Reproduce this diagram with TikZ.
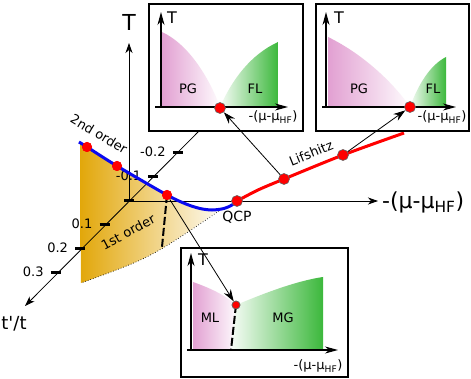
\documentclass[tikz,border=0pt]{standalone}
\usepackage{fontspec}
\setmainfont{DejaVu Sans}
\usepackage{tikz}
\usetikzlibrary{arrows.meta,positioning}
\definecolor{goldx}{HTML}{E2A70A}
\definecolor{pinkx}{HTML}{E2A0D2}
\definecolor{greenx}{HTML}{3CB83C}
\definecolor{bluex}{HTML}{0A0AF0}
\definecolor{redx}{HTML}{FF0000}
\tikzset{
  ax/.style={-{Stealth[length=10pt,width=7pt,inset=3pt]},line width=0.8pt},
  subax/.style={-{Stealth[length=13pt,width=7pt,inset=4pt]},line width=1.1pt},
  ptr/.style={-{Stealth[length=12pt,width=8pt,inset=4pt]},line width=0.8pt},
  tk/.style={line width=3pt},
  phasebd/.style={line width=2pt,dash pattern=on 8pt off 3pt},
  bluecv/.style={bluex,line width=3pt},
  redcv/.style={redx,line width=3pt},
  dot/.style={circle,fill=redx,draw=black!60,line width=0.6pt,minimum size=11pt,inner sep=0pt},
  bdot/.style={circle,fill=redx,minimum size=10pt,inner sep=0pt},
  smalldot/.style={dot,minimum size=8pt},
  panel/.style={draw,line width=1.8pt,fill=white,inner sep=0pt},
  biglab/.style={font=\fontsize{22}{24}\selectfont,inner sep=0pt},
  ticklab/.style={font=\fontsize{13}{15}\selectfont,inner sep=0pt},
  curvelab/.style={font=\fontsize{13}{15}\selectfont,inner sep=0pt},
  boxlab/.style={font=\fontsize{13}{15}\selectfont,inner sep=0pt},
  boxT/.style={font=\fontsize{16}{18}\selectfont,inner sep=0pt}
}

\begin{document}
\begin{tikzpicture}[x=1pt,y=-1pt]
\useasboundingbox (0,0) rectangle (471,379);
% first order region
\shade[left color=goldx,right color=goldx!6] plot[smooth] coordinates {(80,143) (87,147) (117,166) (167,195) (186,204) (200,208.5) (212,210) (219,210.5)} .. controls (150,258) .. (81,283) -- cycle;
\coordinate (yR) at (219,211);
\coordinate (yL) at (81,283);
\draw[dotted,line width=0.7pt] (yR) .. controls (150,258) .. (yL);
% axes
\coordinate (O) at (129,201);
\coordinate (Otip) at (129,43);
\coordinate (Xtip) at (378,201);
\coordinate (Xst) at (124,201);
\coordinate (Dst) at (207,123);
\coordinate (Dtip) at (25,306);
\draw[ax] (O) -- (Otip);
\draw[ax] (Xst) -- (Xtip);
\draw[ax] (Dst) -- (Dtip);
\foreach \v in {-2,...,3}
  \draw[tk] ({129-24.4*\v-5},{201+24*\v}) -- ({129-24.4*\v+5},{201+24*\v});
\foreach \v/\lab in {-2/-0.2,-1/-0.1,1/0.1,2/0.2,3/0.3}
  \node[ticklab,anchor=east] (tl\v) at ({129-24.4*\v-12},{200+24*\v}) {\lab};
% transition lines
\node[bdot] (p1) at (87,147) {};
\node[bdot] (p2) at (117,166) {};
\node[bdot] (p3) at (167,195) {};
\coordinate (dEnd) at (162,247);
\draw[phasebd] (p3.center) -- (dEnd);
\draw[bluecv] plot[smooth] coordinates {(79,142) (87,147) (117,166) (167,195) (186,204) (200,208.5) (212,210) (224,208.5) (232,205) (237,201)};
\draw[redcv] plot[smooth] coordinates {(237,201) (258,190) (284,179) (343,155) (404,133)};
\node[bdot] at (p1) {};
\node[bdot] at (p2) {};
\node[bdot] at (p3) {};
\node[dot] (qcp) at (237,201) {};
\node[dot] (L1) at (284,179) {};
\node[dot] (L2) at (343,155) {};
% labels
\node[biglab] (labT) at (129,22) {T};
\node[biglab,anchor=west] (labMu) at (382,202) {-(μ-μ\textsubscript{HF})};
\node[font=\fontsize{18}{20}\selectfont,inner sep=0pt] (labTp) at (14,324) {t\textquotesingle/t};
\node[curvelab,rotate=-31] (lab2nd) at (99,134) {2nd order};
\node[curvelab,rotate=28] (lab1st) at (128,232) {1st order};
\node[curvelab,rotate=22] (labLif) at (311,153) {Lifshitz};
\node[curvelab,font=\fontsize{14}{16}\selectfont] (labQCP) at (237,217) {QCP};
% top left panel
\node[panel,minimum width=154pt,minimum height=127pt,anchor=north west] (pTL) at (148,3) {};
\shade[left color=pinkx,right color=pinkx!4] (162,107) -- (162,32) .. controls (190,45) and (210,80) .. (220,107) -- cycle;
\shade[left color=greenx!4,right color=greenx] (220,107) .. controls (232,80) and (250,55) .. (278,42) -- (278,107) -- cycle;
\coordinate (tlO) at (161,107);
\coordinate (tlS) at (155,107);
\coordinate (tlX) at (288,107);
\coordinate (tlY) at (161,12);
\draw[subax] (tlO) -- (tlY);
\draw[subax] (tlS) -- (tlX);
\node[boxT] (tlT) at (172,18) {T};
\node[boxlab] (tlPG) at (188,89) {PG};
\node[boxlab] (tlFL) at (255,89) {FL};
\node[boxlab] (tlMu) at (273,117) {-(μ-μ\textsubscript{HF})};
\node[dot] (tlD) at (220,108) {};
% top right panel
\node[panel,minimum width=153pt,minimum height=127pt,anchor=north west] (pTR) at (315,3) {};
\shade[left color=pinkx,right color=pinkx!4] (328,107) -- (328,37) .. controls (365,55) and (395,85) .. (410,107) -- cycle;
\shade[left color=greenx!4,right color=greenx] (410,107) .. controls (418,85) and (430,65) .. (446,57) -- (446,107) -- cycle;
\coordinate (trO) at (326,107);
\coordinate (trS) at (322,107);
\coordinate (trX) at (456,107);
\coordinate (trY) at (326,12);
\draw[subax] (trO) -- (trY);
\draw[subax] (trS) -- (trX);
\node[boxT] (trT) at (339,18) {T};
\node[boxlab] (trPG) at (359,89) {PG};
\node[boxlab] (trFL) at (433,89) {FL};
\node[boxlab] (trMu) at (442,117) {-(μ-μ\textsubscript{HF})};
\node[dot] (trD) at (410,107) {};
% bottom panel
\node[panel,minimum width=167pt,minimum height=129pt,anchor=north west] (pB) at (180,247) {};
\shade[left color=pinkx,right color=pinkx!5] (193,350) -- (193,282) .. controls (210,288) and (225,295) .. (236,305) -- (231,350) -- cycle;
\shade[left color=greenx!4,right color=greenx] (236,305) .. controls (260,295) and (295,281) .. (323,277) -- (323,350) -- (231,350) -- cycle;
\coordinate (bO) at (191,350);
\coordinate (bS) at (187,350);
\coordinate (bX) at (338,350);
\coordinate (bY) at (191,253);
\coordinate (bEnd) at (231,350);
\draw[subax] (bO) -- (bY);
\draw[subax] (bS) -- (bX);
\node[smalldot] (bD) at (236,305) {};
\draw[phasebd] (bD.center) -- (bEnd);
\node[smalldot] at (bD) {};
\node[boxT] (bT) at (203,260) {T};
\node[boxlab] (bML) at (210,318) {ML};
\node[boxlab] (bMG) at (283,318) {MG};
\node[boxlab] (bMu) at (318,366) {-(μ-μ\textsubscript{HF})};
% pointers
\draw[ptr] (L1) -- (tlD);
\draw[ptr] (L2) -- (trD);
\draw[ptr] (p3) -- (bD);
\end{tikzpicture}
\end{document}
